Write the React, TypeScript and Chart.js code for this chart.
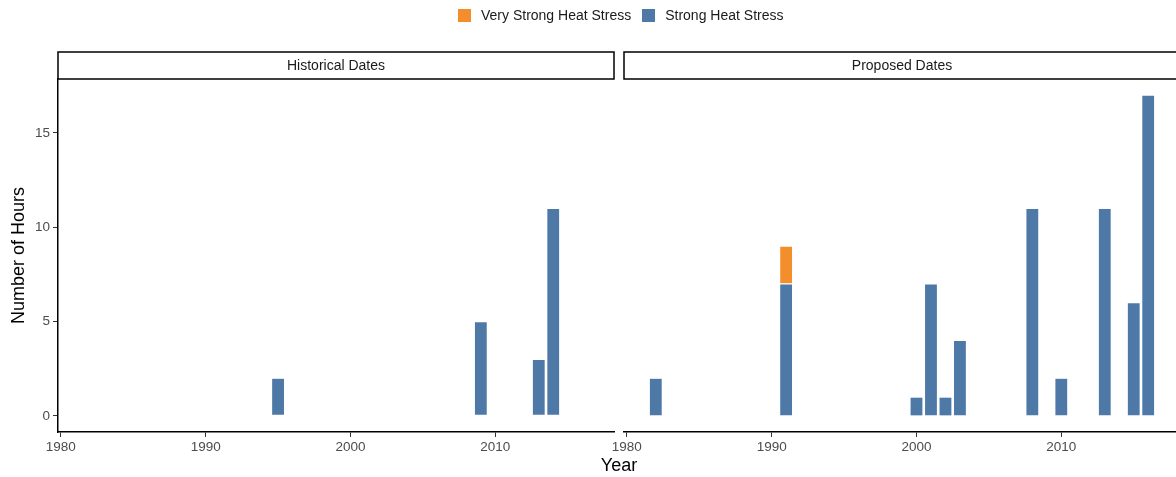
import React, { useEffect, useRef } from 'react';
import { Chart, registerables } from 'chart.js';

Chart.register(...registerables);

// ---- data ----
const seriesNames = ['Very Strong Heat Stress', 'Strong Heat Stress'];
const seriesColors = ['#F28E2B', '#4E79A7'];
const panelLabels = ['Historical Dates', 'Proposed Dates'];

const histStrongYears = [1995, 2009, 2013, 2014];
const histStrong = [2, 5, 3, 11];
const histVeryStrongYears: number[] = [];
const histVeryStrong: number[] = [];

const propStrongYears = [1982, 1991, 2000, 2001, 2002, 2003, 2008, 2010, 2013, 2015, 2016];
const propStrong = [2, 7, 1, 7, 1, 4, 11, 2, 11, 6, 17];
const propVeryStrongYears = [1991];
const propVeryStrong = [2];

const xTicks = [1980, 1990, 2000, 2010];
const yTicks = [0, 5, 10, 15];

const X_MIN = 1979.805;
const X_MAX = 2018.195;
const Y_MIN = -0.85;
const Y_MAX = 17.85;

const FONT = "'Liberation Sans', Arial, Helvetica, sans-serif";

function stripPlugin(label: string) {
  return {
    id: 'facetStrip',
    afterDraw(chart: any) {
      const { ctx, chartArea } = chart;
      const h = 27;
      const top = chartArea.top - h;
      ctx.save();
      ctx.fillStyle = '#ffffff';
      ctx.fillRect(chartArea.left, top, chartArea.right - chartArea.left, h);
      ctx.strokeStyle = '#000000';
      ctx.lineWidth = 1.5;
      ctx.strokeRect(chartArea.left, top, chartArea.right - chartArea.left, h);
      ctx.fillStyle = '#1a1a1a';
      ctx.font = `14px ${FONT}`;
      ctx.textAlign = 'center';
      ctx.textBaseline = 'middle';
      ctx.fillText(label, (chartArea.left + chartArea.right) / 2, top + h / 2 + 1);
      ctx.restore();
    },
  };
}

function buildConfig(p: {
  strip: string;
  strongYears: number[];
  strong: number[];
  vsYears: number[];
  vs: number[];
  showY: boolean;
  padLeft: number;
  padRight: number;
}): any {
  const barCommon = {
    borderColor: 'rgba(255,255,255,0.45)',
    borderWidth: 0.6,
    borderSkipped: false,
    barPercentage: 0.9,
    categoryPercentage: 1,
  };
  return {
    type: 'bar',
    data: {
      datasets: [
        {
          label: seriesNames[1],
          data: p.strongYears.map((x, i) => ({ x, y: p.strong[i] })),
          backgroundColor: seriesColors[1],
          ...barCommon,
        },
        {
          label: seriesNames[0],
          data: p.vsYears.map((x, i) => ({ x, y: p.vs[i] })),
          backgroundColor: seriesColors[0],
          ...barCommon,
        },
      ],
    },
    options: {
      responsive: false,
      animation: false,
      layout: { padding: { top: 79, left: p.padLeft, right: p.padRight, bottom: 0 } },
      plugins: {
        legend: { display: false },
        tooltip: { enabled: false },
        title: { display: false },
      },
      scales: {
        x: {
          type: 'linear',
          min: X_MIN,
          max: X_MAX,
          offset: false,
          stacked: true,
          afterBuildTicks: (s: any) => {
            s.ticks = xTicks.map((v) => ({ value: v }));
          },
          afterFit: (s: any) => {
            s.height = 45;
            s.paddingLeft = 0;
            s.paddingRight = 0;
          },
          grid: {
            display: true,
            offset: false,
            drawOnChartArea: false,
            drawTicks: true,
            tickLength: 5,
            color: '#333333',
            lineWidth: 1,
          },
          border: { display: true, color: '#000000', width: 1.5 },
          ticks: {
            font: { family: FONT, size: 13.5 },
            color: '#4d4d4d',
            padding: 2,
            maxRotation: 0,
            autoSkip: false,
            callback: (v: any) => String(v),
          },
        },
        y: {
          type: 'linear',
          min: Y_MIN,
          max: Y_MAX,
          stacked: true,
          display: p.showY,
          afterBuildTicks: (s: any) => {
            s.ticks = yTicks.map((v) => ({ value: v }));
          },
          afterFit: (s: any) => {
            s.width = p.showY ? 58 : 0;
          },
          grid: {
            display: true,
            offset: false,
            drawOnChartArea: false,
            drawTicks: true,
            tickLength: 5,
            color: '#333333',
            lineWidth: 1,
          },
          border: { display: true, color: '#000000', width: 1.5 },
          title: {
            display: true,
            text: 'Number of Hours',
            color: '#000000',
            font: { family: FONT, size: 18 },
            padding: { top: 8, bottom: 0 },
          },
          ticks: {
            font: { family: FONT, size: 13.5 },
            color: '#4d4d4d',
            padding: 3,
            autoSkip: false,
            callback: (v: any) => String(v),
          },
        },
      },
    },
    plugins: [stripPlugin(p.strip)],
  };
}

export default function App() {
  const leftRef = useRef<HTMLCanvasElement | null>(null);
  const rightRef = useRef<HTMLCanvasElement | null>(null);

  useEffect(() => {
    const charts: Chart[] = [];
    if (leftRef.current) {
      charts.push(
        new Chart(
          leftRef.current,
          buildConfig({
            strip: panelLabels[0],
            strongYears: histStrongYears,
            strong: histStrong,
            vsYears: histVeryStrongYears,
            vs: histVeryStrong,
            showY: true,
            padLeft: 0,
            padRight: 6,
          })
        )
      );
    }
    if (rightRef.current) {
      charts.push(
        new Chart(
          rightRef.current,
          buildConfig({
            strip: panelLabels[1],
            strongYears: propStrongYears,
            strong: propStrong,
            vsYears: propVeryStrongYears,
            vs: propVeryStrong,
            showY: false,
            padLeft: 44,
            padRight: 4,
          })
        )
      );
    }
    return () => charts.forEach((c) => c.destroy());
  }, []);

  const textStyle: React.CSSProperties = { fontFamily: FONT, whiteSpace: 'nowrap' };

  return (
    <div
      style={{
        position: 'fixed',
        left: 0,
        top: 0,
        width: 1176,
        height: 477,
        overflow: 'hidden',
        background: '#ffffff',
      }}
    >
      <canvas
        ref={leftRef}
        width={620}
        height={477}
        style={{ position: 'absolute', left: 0, top: 0, width: 620, height: 477 }}
      />
      <canvas
        ref={rightRef}
        width={604}
        height={477}
        style={{ position: 'absolute', left: 580, top: 0, width: 604, height: 477 }}
      />
      {/* legend */}
      <div
        style={{
          position: 'absolute',
          left: 458,
          top: 3,
          height: 24,
          display: 'flex',
          alignItems: 'center',
          ...textStyle,
          fontSize: 14,
          color: '#1a1a1a',
        }}
      >
        {seriesNames.map((name, i) => (
          <div key={name} style={{ display: 'flex', alignItems: 'center', marginRight: i === 0 ? 11 : 0 }}>
            <span
              style={{
                display: 'inline-block',
                width: 13,
                height: 13,
                background: seriesColors[i],
                marginRight: 10,
              }}
            />
            <span>{name}</span>
          </div>
        ))}
      </div>
      {/* x axis title */}
      <div
        style={{
          position: 'absolute',
          left: 519,
          width: 200,
          top: 454,
          lineHeight: '22px',
          textAlign: 'center',
          fontSize: 18,
          color: '#000000',
          ...textStyle,
        }}
      >
        Year
      </div>
    </div>
  );
}
